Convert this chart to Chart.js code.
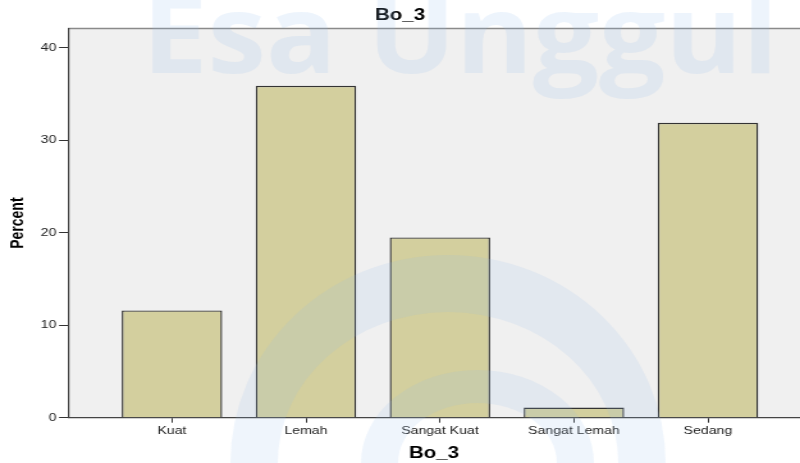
<!DOCTYPE html>
<html>
<head>
<meta charset="utf-8">
<script src="https://cdn.jsdelivr.net/npm/chart.js@4"></script>
<style>
    html, body { margin: 0; padding: 0; background: #ffffff; overflow: hidden; }
    /* the original picture is stretched sideways, so the canvas is too */
    #wrap { width: 625px; height: 463px; transform: scaleX(1.28); transform-origin: 0 0; }
</style>
</head>
<body>
<div id="wrap"><canvas id="chart" width="625" height="463"></canvas></div>
<script>
// Dati
const categories = ['Kuat', 'Lemah', 'Sangat Kuat', 'Sangat Lemah', 'Sedang'];
const percents = [11.6, 35.9, 19.5, 1.1, 31.9];
const yTicks = [0, 10, 20, 30, 40];
const titleText = 'Bo_3';
const yTitle = 'Percent';
const watermark = 'Esa Unggul';

const FONT = '"Liberation Sans", Arial, sans-serif';

// Sfondo grigio dell'area del grafico + bordo superiore
const plotBackground = {
    id: 'plotBackground',
    beforeDraw(chart) {
        const { ctx, chartArea: a } = chart;
        ctx.save();
        ctx.fillStyle = '#f0f0f0';
        ctx.fillRect(a.left, a.top, a.right - a.left, a.bottom - a.top);
        ctx.strokeStyle = '#8a8a8a';
        ctx.lineWidth = 1.5;
        ctx.beginPath();
        ctx.moveTo(a.left, a.top);
        ctx.lineTo(a.right, a.top);
        ctx.stroke();
        ctx.restore();
    }
};

// Filigrana (testo + logo) sopra tutto
const watermarkPlugin = {
    id: 'watermark',
    afterDraw(chart) {
        const ctx = chart.ctx;
        ctx.save();
        ctx.fillStyle = 'rgba(150,190,235,0.17)';
        ctx.font = 'bold 100px "Open Sans", sans-serif';
        const w = ctx.measureText(watermark).width;
        ctx.translate(111, 73);
        ctx.scale(497 / w, 1.1);
        ctx.textBaseline = 'alphabetic';
        ctx.fillText(watermark, 0, 0);
        ctx.restore();

        ctx.save();
        ctx.fillStyle = 'rgba(150,190,235,0.15)';
        ctx.beginPath();
        ctx.ellipse(350, 463, 170, 208, 0, Math.PI, 2 * Math.PI);
        ctx.ellipse(350, 463, 133, 151, 0, 2 * Math.PI, Math.PI, true);
        ctx.closePath();
        ctx.fill();
        ctx.beginPath();
        ctx.ellipse(373, 463, 91, 93, 0, Math.PI, 2 * Math.PI);
        ctx.ellipse(373, 463, 62, 60, 0, 2 * Math.PI, Math.PI, true);
        ctx.closePath();
        ctx.fill();
        ctx.restore();
    }
};

const ctx = document.getElementById('chart').getContext('2d');
const chart = new Chart(ctx, {
    type: 'bar',
    data: {
        datasets: [{
            label: yTitle,
            data: percents.map((v, i) => ({ x: i, y: v })),
            backgroundColor: '#d3cf9e',
            borderColor: '#333333',
            borderWidth: 1.4,
            barPercentage: 0.75,
            categoryPercentage: 1
        }]
    },
    options: {
        responsive: false,
        animation: false,
        layout: { padding: 0 },
        scales: {
            x: {
                type: 'linear',
                offset: false,
                min: -0.776,
                max: 4.687,
                afterFit: (s) => { s.height = 45.3; },
                afterBuildTicks: (s) => { s.ticks = categories.map((c, i) => ({ value: i })); },
                grid: { offset: false, drawOnChartArea: false, tickLength: 5, tickColor: '#333333', tickWidth: 1 },
                border: { color: '#444444', width: 1.2 },
                ticks: {
                    autoSkip: false,
                    maxRotation: 0,
                    padding: 2,
                    color: '#222222',
                    font: { family: FONT, size: 11 },
                    callback: (v) => categories[v]
                },
                title: {
                    display: true,
                    text: titleText,
                    color: '#000000',
                    font: { family: FONT, size: 16, weight: 'bold' },
                    padding: { top: 0, bottom: 0 }
                }
            },
            y: {
                min: 0,
                max: 42.1,
                afterFit: (s) => { s.width = 53.1; },
                afterBuildTicks: (s) => { s.ticks = yTicks.map(v => ({ value: v })); },
                grid: { drawOnChartArea: false, tickLength: 7, tickColor: '#333333', tickWidth: 1 },
                border: { color: '#444444', width: 1.2 },
                ticks: {
                    padding: 2,
                    color: '#222222',
                    font: { family: FONT, size: 11 }
                },
                title: {
                    display: true,
                    text: yTitle,
                    color: '#000000',
                    font: { family: FONT, size: 14, weight: 'bold' },
                    padding: { top: 5.6, bottom: 0 }
                }
            }
        },
        plugins: {
            legend: { display: false },
            tooltip: { enabled: false },
            title: {
                display: true,
                text: titleText,
                color: '#000000',
                font: { family: FONT, size: 16, weight: 'bold' },
                padding: { top: 6.4, bottom: 2.9 }
            }
        }
    },
    plugins: [plotBackground, watermarkPlugin]
});
</script>
</body>
</html>
